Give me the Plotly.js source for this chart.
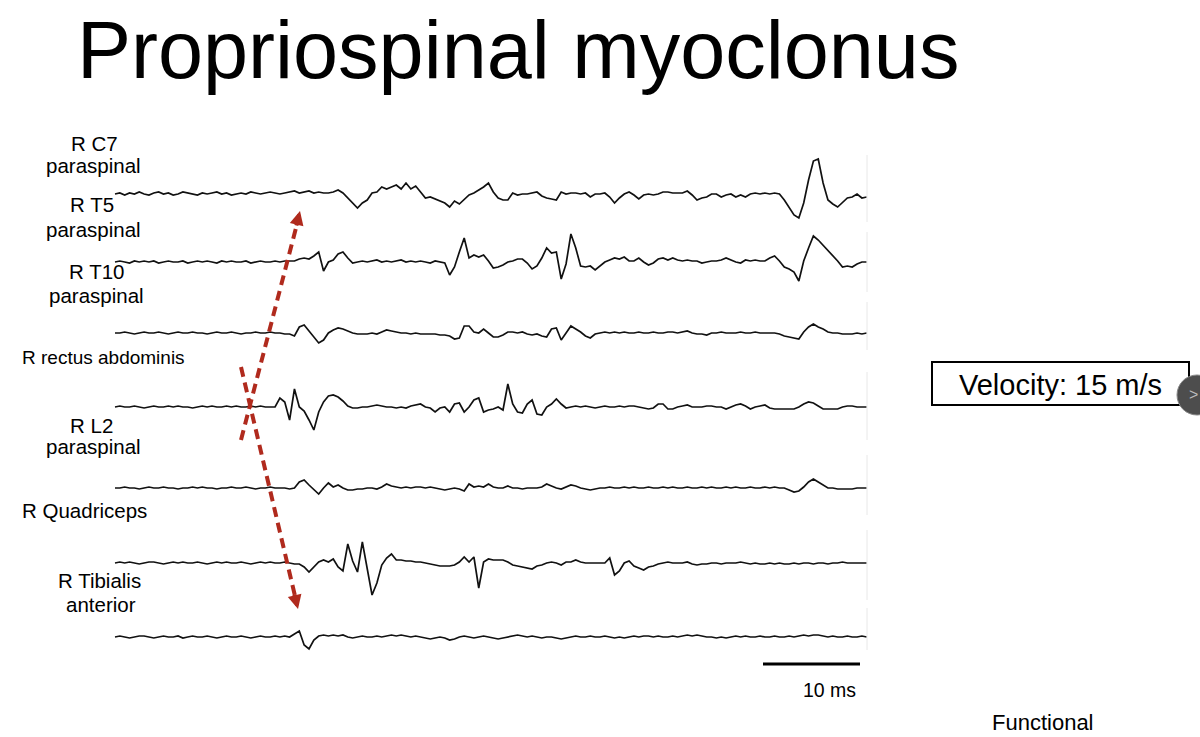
<!DOCTYPE html>
<html><head><meta charset="utf-8">
<script src="https://cdn.plot.ly/plotly-3.0.1.min.js"></script>
<style>html,body{margin:0;padding:0;background:#fff}#chart{width:1200px;height:737px}</style>
</head><body><div id="chart"></div>
<script>
// ---- data (time in ms, amplitude in arbitrary units, up = positive) ----
const timeMs = [0,0.5,1,1.5,2,2.5,3,3.5,4,4.5,5,5.5,6,6.5,7,7.5,8,8.5,9,9.5,10,10.5,11,11.5,12,12.5,13,13.5,14,14.5,15,15.5,16,16.5,17,17.5,18,18.5,19,19.5,20,20.5,21,21.5,22,22.5,23,23.5,24,24.5,25,25.5,26,26.5,27,27.5,28,28.5,29,29.5,30,30.5,31,31.5,32,32.5,33,33.5,34,34.5,35,35.5,36,36.5,37,37.5,38,38.5,39,39.5,40,40.5,41,41.5,42,42.5,43,43.5,44,44.5,45,45.5,46,46.5,47,47.5,48,48.5,49,49.5,50,50.5,51,51.5,52,52.5,53,53.5,54,54.5,55,55.5,56,56.5,57,57.5,58,58.5,59,59.5,60,60.5,61,61.5,62,62.5,63,63.5,64,64.5,65,65.5,66,66.5,67,67.5,68,68.5,69,69.5,70,70.5,71,71.5,72,72.5,73,73.5,74,74.5,75,75.5,76,76.5,77,77.5];

const rC7Paraspinal = [0,1,-1,1,0,2,0,-1,1,2, 0,1,-1,0,2,1,0,-1,1,0, 1,2,0,1,-1,0,1,0,2,1, 0,1,2,1,0,1,2,3,1,2, 3,1,2,1,
 1,2,4,1,-4,-9,-14,-9,-6,1, 2,7,5,7,9,5,11,5,8,2, -4,-3,-5,-7,-9,-13,-7,-10,-5,-1, 1,4,7,11,2,-4,-6,-6,1,-1,
 0,0,1,2,-2,-4,-5,-6,2,0, 1,1,0,1,-3,0,0,1,-3,-9, -4,0,2,-1,-5,-1,0,-1,0,2, 2,1,1,1,3,-1,-6,-4,-3,0,
 0,-3,-1,0,-3,-1,-3,0,1,0, 1,0,1,0,-6,-13,-21,-24,-9,14, 33,35,11,-6,-10,-13,-8,-4,-3,0, -4,-3];

const rT5Paraspinal = [0,1,0,-1,1,0,1,0,1,-1, 0,1,0,0,1,-1,0,1,0,1, 0,-1,1,0,1,0,0,1,-1,0, 1,0,0,1,0,1,
 1,1,3,4,3,6,10,-9,0,2, 8,10,4,-1,0,1,0,1,2,0, 1,0,1,2,0,1,0,1,0,-1, 1,0,-1,-13,-5,10,24,4,7,5,
 7,1,-6,-5,-3,0,1,3,3,-1, -7,-4,4,14,9,10,-17,-2,28,14, -4,-5,-4,-8,-4,0,2,4,3,5, 1,1,4,0,-3,-1,3,4,2,4,
 2,1,2,1,1,-1,0,1,1,2, 4,2,0,-1,2,1,2,1,1,4, 6,1,-5,-7,-10,-19,1,14,26,22, 17,12,7,1,-5,-4,-5,-2,0,0];

const rT10Paraspinal = [0,0,1,0,-1,0,1,0,0,1, 0,-1,0,1,0,0,1,0,0,-1, 0,1,0,0,1,0,-1,0,0,1, 0,0,1,
 0,0,-1,-1,-3,6,8,2,-5,-10, -7,0,3,5,4,2,0,-1,-1,-1, 0,-1,1,3,2,1,0,0,-1,0, -1,-1,-1,-1,-2,-2,-3,-6,-5,7,
 7,1,0,4,0,-4,-4,-2,1,1, 0,1,-1,-2,-1,-3,-4,4,5,-7, 0,7,4,1,-3,-5,-1,0,1,0, 1,0,1,0,0,1,0,0,1,0,
 0,1,1,0,1,2,0,-1,-1,-2, 0,0,1,0,0,0,1,0,0,1, 0,0,0,0,-1,-3,-4,-5,-6,1, 6,9,6,4,1,0,0,-1,-1,-1, 0,-1,0];

const rRectusAbdominis = [0,1,0,0,1,0,-1,0,1,0, 0,1,0,1,0,0,-1,0,1,0, 1,0,0,1,0,1,0,0,1,0, 1,0,0,
 0,9,5,-13,18,0,-4,-13,-23,-5, 5,11,12,10,6,1,-1,-1,0,0, 1,2,1,0,0,-1,0,-1,1,2, 3,0,-1,-5,-1,0,-5,3,4,-5,
 0,7,9,-5,-3,-2,0,-3,23,3, -5,-6,3,7,-7,-8,0,3,8,3, -1,0,1,0,1,0,-1,0,1,0, 0,1,0,1,1,0,-1,-2,-1,3,
 3,-2,-2,0,1,2,0,0,0,1, 1,0,0,-2,0,2,3,1,-2,0, 1,2,-1,-2,-2,-2,-2,-2,0,3, 5,4,1,-2,-2,-2,-2,0,1,1, 0,0,0];

const rL2Paraspinal = [0,0,1,0,0,-1,0,1,0,0, 1,0,0,-1,0,0,1,0,1,0, 0,-1,0,0,1,0,0,1,0,-1, 0,0,1,0,
 0,0,-1,0,6,8,3,-2,-6,0, 5,1,3,0,-2,-2,-1,-1,0,0, -1,1,4,2,1,0,1,0,1,1, 0,1,0,-1,-2,-1,0,-1,-3,4,
 1,2,1,4,1,0,0,2,0,0, -1,0,0,0,1,4,2,0,-1,1, 3,2,0,-1,-2,-1,0,
 0,1,0,0,1,0,1,0,0,1, 0,0,1,0,1,0,0,1,0,0, 1,0,1,0,0,1,0,1,0,0, 1,0,0,1,0,1,0,
 0,-2,-4,-3,1,6,9,6,3,0, 0,-1,-1,-1,-1,0,0,0];

const rQuadriceps = [0,1,0,1,0,-1,0,1,1,0, -1,0,1,0,1,0,0,1,0,-1, 0,1,0,1,0,0,1,0,-1,0, 1,0,1,0,0,1,
 0,-1,-1,-4,-9,-4,1,3,1,4, -4,-8,19,2,-9,21,-5,-32,-20,-2, 5,9,3,3,2,2,1,1,0,-1, -2,-3,-3,-3,-2,1,6,1,6,-25,
 1,4,3,3,3,1,-2,-3,-4,-5, -6,-3,-2,0,1,0,-2,1,1,3, 1,0,0,0,0,0,5,-12,-8,0, 2,-3,-5,-7,-4,-3,-1,0,1,0,
 0,0,1,-1,-2,
 -1,-1,0,0,-1,0,0,0,1,0, -1,0,-1,-1,0,-1,0,-1,-1,0, -1,0,0,-1,0,0,-1,0,0,1, 0,0,0,0,0];

const rTibialisAnterior = [0,1,0,-1,0,1,1,0,-1,0, 1,0,0,1,-1,0,1,0,0,1, 0,-1,0,1,0,0,1,0,-1,0, 1,0,0,1,0,1,0,
 3,6,-8,-12,-3,1,2,
 1,2,1,2,0,-1,0,1,0,0, 1,0,1,2,1,2,1,0,1,0, -1,-2,-1,0,-1,-3,-2,0,1,0, -1,0,1,0,-1,-2,-1,0,1,2,
 1,0,1,0,-1,0,0,-1,-2,-1, 0,1,0,0,1,0,0,1,0,-1, 0,-1,0,1,0,1,1,0,1,0, 0,1,0,1,2,1,2,1,0,0,
 -1,0,-1,0,1,0,1,0,0,1, 0,0,1,0,0,1,0,1,2,1, 2,2,1,0,1,0,0,1,0,0, 1,0];

const channelLabels = [["R C7","paraspinal"],["R T5","paraspinal"],["R T10","paraspinal"],["R rectus abdominis"],["R L2","paraspinal"],["R Quadriceps"],["R Tibialis","anterior"]];
const scaleBarMs = 10;
const scaleBarLabel = "10 ms";
const velocityLabel = "Velocity: 15 m/s";
const chartTitle = "Propriospinal myoclonus";
const footerLabel = "Functional";

// ---- layout / styling ----
const W = 1200, H = 737, PX_PER_MS = 9.7, X0PX = 115;
const baselines = [194, 262, 333, 407, 488, 563, 637];  // pixel rows of traces
const series = [rC7Paraspinal, rT5Paraspinal, rT10Paraspinal, rRectusAbdominis, rL2Paraspinal, rQuadriceps, rTibialisAnterior];
const px = x => x / W, py = y => 1 - y / H;
const FONT = "Liberation Sans, Arial, sans-serif";

const traces = series.map((vals, k) => ({
  type: 'scatter', mode: 'lines', x: timeMs, y: vals.map(v => -baselines[k] + v),
  line: {color: '#111', width: 1.7, shape: 'linear'}, hoverinfo: 'skip'
}));
const sbStart = (763 - X0PX) / PX_PER_MS;
traces.push({type: 'scatter', mode: 'lines', x: [sbStart, sbStart + scaleBarMs], y: [-664, -664],
  line: {color: '#000', width: 3}, hoverinfo: 'skip'});

const red = '#b02a1d';
const labelPos = [
  [[94,143],[93,166]], [[92,204],[93,229]], [[96,271],[97,296]], [[20,357,'left',19]],
  [[91,425],[93,446]], [[20,511,'left']], [[99,580],[101,604]]
];
const annotations = [];
channelLabels.forEach((lines, k) => {
  lines.forEach((t, j) => {
    const p = labelPos[k][j];
    annotations.push({xref:'paper', yref:'paper', x: px(p[0]), y: py(p[1]), text: t, showarrow:false,
      xanchor: p[2] || 'center', yanchor:'middle', font:{family:FONT, size:p[3] || 20.5, color:'#000'}});
  });
});
annotations.push({xref:'paper', yref:'paper', x: px(75), y: py(50), text: chartTitle, showarrow:false,
  xanchor:'left', yanchor:'middle', font:{family:FONT, size:81, color:'#000'}});
annotations.push({xref:'paper', yref:'paper', x: px(1060), y: py(385), text: velocityLabel, showarrow:false,
  xanchor:'center', yanchor:'middle', font:{family:FONT, size:29, color:'#000'}});
annotations.push({xref:'paper', yref:'paper', x: px(1043), y: py(722), text: footerLabel, showarrow:false,
  xanchor:'center', yanchor:'middle', font:{family:FONT, size:22, color:'#000'}});
annotations.push({xref:'paper', yref:'paper', x: px(829), y: py(690), text: scaleBarLabel, showarrow:false,
  xanchor:'center', yanchor:'middle', font:{family:FONT, size:19.5, color:'#000'}});
annotations.push({xref:'paper', yref:'paper', x: px(1193), y: py(394), text: '&gt;', showarrow:false,
  xanchor:'center', yanchor:'middle', font:{family:FONT, size:16, color:'#bbb'}});
// arrow heads
annotations.push({xref:'paper', yref:'paper', x: px(300), y: py(211), ax: -4, ay: 16, text:'', showarrow:true,
  arrowhead:2, arrowsize:0.7, arrowwidth:4, arrowcolor:red, standoff:0});
annotations.push({xref:'paper', yref:'paper', x: px(298), y: py(609), ax: -4, ay: -16, text:'', showarrow:true,
  arrowhead:2, arrowsize:0.7, arrowwidth:4, arrowcolor:red, standoff:0});

const shapes = [
  {type:'line', xref:'paper', yref:'paper', x0:px(241), y0:py(440), x1:px(297), y1:py(224),
    line:{color:red, width:4, dash:'10px,6px'}},
  {type:'line', xref:'paper', yref:'paper', x0:px(241), y0:py(367), x1:px(295), y1:py(596),
    line:{color:red, width:4, dash:'10px,6px'}},
  {type:'rect', xref:'paper', yref:'paper', x0:px(932), y0:py(362), x1:px(1189), y1:py(405),
    line:{color:'#000', width:2}, fillcolor:'rgba(0,0,0,0)'},
  {type:'circle', xref:'paper', yref:'paper', x0:px(1177), y0:py(375), x1:px(1217), y1:py(415),
    line:{color:'#888', width:1}, fillcolor:'#4d4d4d'}
];
[[155,222],[232,292],[302,350],[372,440],[455,515],[530,600],[608,650]].forEach(s => {
  shapes.push({type:'line', xref:'paper', yref:'paper', x0:px(867), x1:px(867), y0:py(s[0]), y1:py(s[1]),
    line:{color:'#e8e8e8', width:1}});
});

const layout = {
  width: W, height: H, margin:{l:0,r:0,t:0,b:0,pad:0},
  paper_bgcolor:'#fff', plot_bgcolor:'#fff', showlegend:false,
  xaxis:{range:[-X0PX/PX_PER_MS, (W - X0PX)/PX_PER_MS], visible:false, fixedrange:true},
  yaxis:{range:[-H, 0], visible:false, fixedrange:true},
  annotations, shapes
};
Plotly.newPlot('chart', traces, layout, {staticPlot:true, displayModeBar:false});
</script></body></html>
